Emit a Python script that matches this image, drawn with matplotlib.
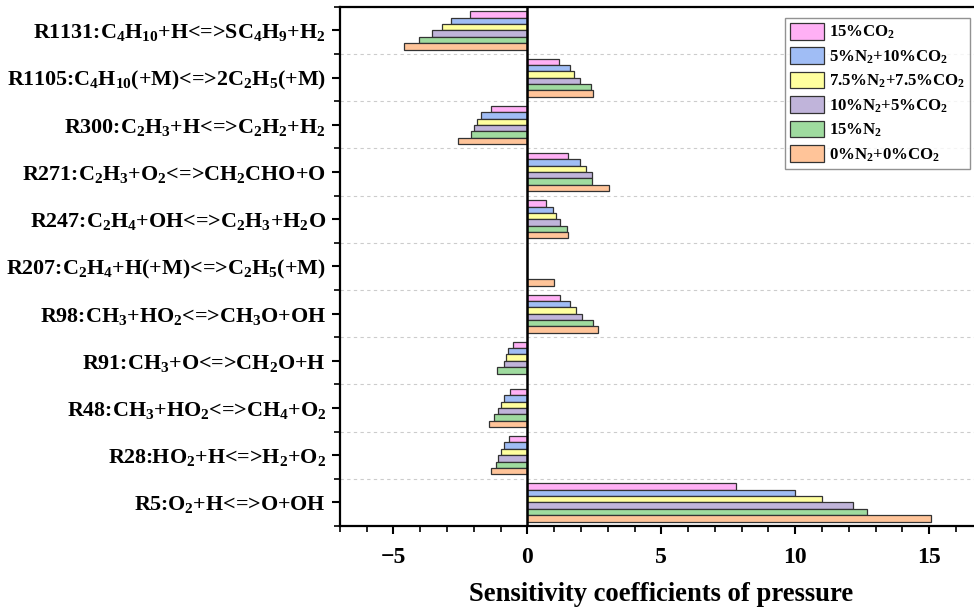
import numpy as np
import matplotlib
matplotlib.use("Agg")
import matplotlib.pyplot as plt
from matplotlib.ticker import MultipleLocator, FixedLocator

plt.rcParams['font.family'] = ['Liberation Serif', 'DejaVu Serif']
plt.rcParams['font.weight'] = 'bold'
plt.rcParams['mathtext.fontset'] = 'custom'
plt.rcParams['mathtext.rm'] = 'Liberation Serif:bold'
plt.rcParams['mathtext.it'] = 'Liberation Serif:bold'
plt.rcParams['mathtext.bf'] = 'Liberation Serif:bold'
plt.rcParams['mathtext.default'] = 'rm'

# categories from bottom to top
reactions = [
    r"R5:O$_2$+H<=>O+OH",
    r"R28:HO$_2$+H<=>H$_2$+O$_2$",
    r"R48:CH$_3$+HO$_2$<=>CH$_4$+O$_2$",
    r"R91:CH$_3$+O<=>CH$_2$O+H",
    r"R98:CH$_3$+HO$_2$<=>CH$_3$O+OH",
    r"R207:C$_2$H$_4$+H(+M)<=>C$_2$H$_5$(+M)",
    r"R247:C$_2$H$_4$+OH<=>C$_2$H$_3$+H$_2$O",
    r"R271:C$_2$H$_3$+O$_2$<=>CH$_2$CHO+O",
    r"R300:C$_2$H$_3$+H<=>C$_2$H$_2$+H$_2$",
    r"R1105:C$_4$H$_{10}$(+M)<=>2C$_2$H$_5$(+M)",
    r"R1131:C$_4$H$_{10}$+H<=>SC$_4$H$_9$+H$_2$",
]

series_labels = [
    r"15%CO$_2$",
    r"5%N$_2$+10%CO$_2$",
    r"7.5%N$_2$+7.5%CO$_2$",
    r"10%N$_2$+5%CO$_2$",
    r"15%N$_2$",
    r"0%N$_2$+0%CO$_2$",
]

co2_15 =    [7.80, -0.68, -0.64, -0.55, 1.20, 0.0, 0.71, 1.50, -1.36, 1.19, -2.15]
n5_co2_10 = [10.00, -0.88, -0.86, -0.71, 1.59, 0.0, 0.95, 1.96, -1.75, 1.58, -2.85]
n75_co2_75 = [11.00, -0.99, -0.98, -0.80, 1.80, 0.0, 1.06, 2.18, -1.89, 1.73, -3.18]
n10_co2_5 = [12.15, -1.09, -1.09, -0.89, 2.03, 0.0, 1.20, 2.41, -2.00, 1.95, -3.56]
n2_15 =     [12.68, -1.19, -1.23, -1.13, 2.44, 0.0, 1.49, 2.41, -2.10, 2.38, -4.06]
base =      [15.08, -1.36, -1.43, 0.0, 2.63, 1.01, 1.52, 3.03, -2.59, 2.46, -4.59]

series = [co2_15, n5_co2_10, n75_co2_75, n10_co2_5, n2_15, base]
colors = ['#FFB0F5', '#A0BDF5', '#FFFF9E', '#C0B4DA', '#9FDB9F', '#FFC499']

fig = plt.figure(figsize=(9.74, 6.10), dpi=100)
ax = fig.add_axes([0.349, 0.1377, 0.66, 0.851])

y = np.arange(len(reactions))
h = 0.135
for k, (vals, col, lab) in enumerate(zip(series, colors, series_labels)):
    off = (2.5 - k) * h
    ax.barh(y + off, vals, height=h, color=col, edgecolor='#333333',
            linewidth=0.9, label=lab, zorder=3)

ax.axvline(0, color='black', linewidth=1.8, zorder=4)

ax.set_xlim(-7, 17.0)
ax.set_ylim(-0.5, len(reactions) - 0.5)
ax.set_yticks(y)
ax.set_yticklabels(reactions, fontsize=15.8)
ax.yaxis.set_minor_locator(FixedLocator(np.arange(-0.5, len(reactions), 1.0)))
ax.xaxis.set_minor_locator(MultipleLocator(1))
ax.set_xticks([-5, 0, 5, 10, 15])
ax.set_xticklabels(['\u22125', '0', '5', '10', '15'], fontsize=17)
ax.tick_params(axis='both', which='major', direction='out', length=6, width=1.5)
ax.tick_params(axis='both', which='minor', direction='out', length=4, width=1.2)
ax.tick_params(axis='y', which='major', pad=4)
ax.tick_params(axis='x', which='major', pad=9)

ax.grid(True, axis='y', which='minor', linestyle=(0, (3, 3)), color='#cccccc',
        linewidth=0.8, zorder=0)
ax.grid(False, axis='y', which='major')

for s in ['left', 'bottom', 'top']:
    ax.spines[s].set_linewidth(1.6)
ax.spines['right'].set_visible(False)

ax.set_xlabel('Sensitivity coefficients of pressure', fontsize=19.2, fontweight='bold', labelpad=10)

leg = ax.legend(loc='upper right', bbox_to_anchor=(0.98, 0.979), fontsize=12.1,
                frameon=True, fancybox=False, edgecolor='#777777',
                handlelength=2.0, handleheight=1.15, labelspacing=0.36,
                borderpad=0.3, handletextpad=0.3, borderaxespad=0.0)
leg.get_frame().set_linewidth(1.0)

fig.savefig('out.png', dpi=100)
